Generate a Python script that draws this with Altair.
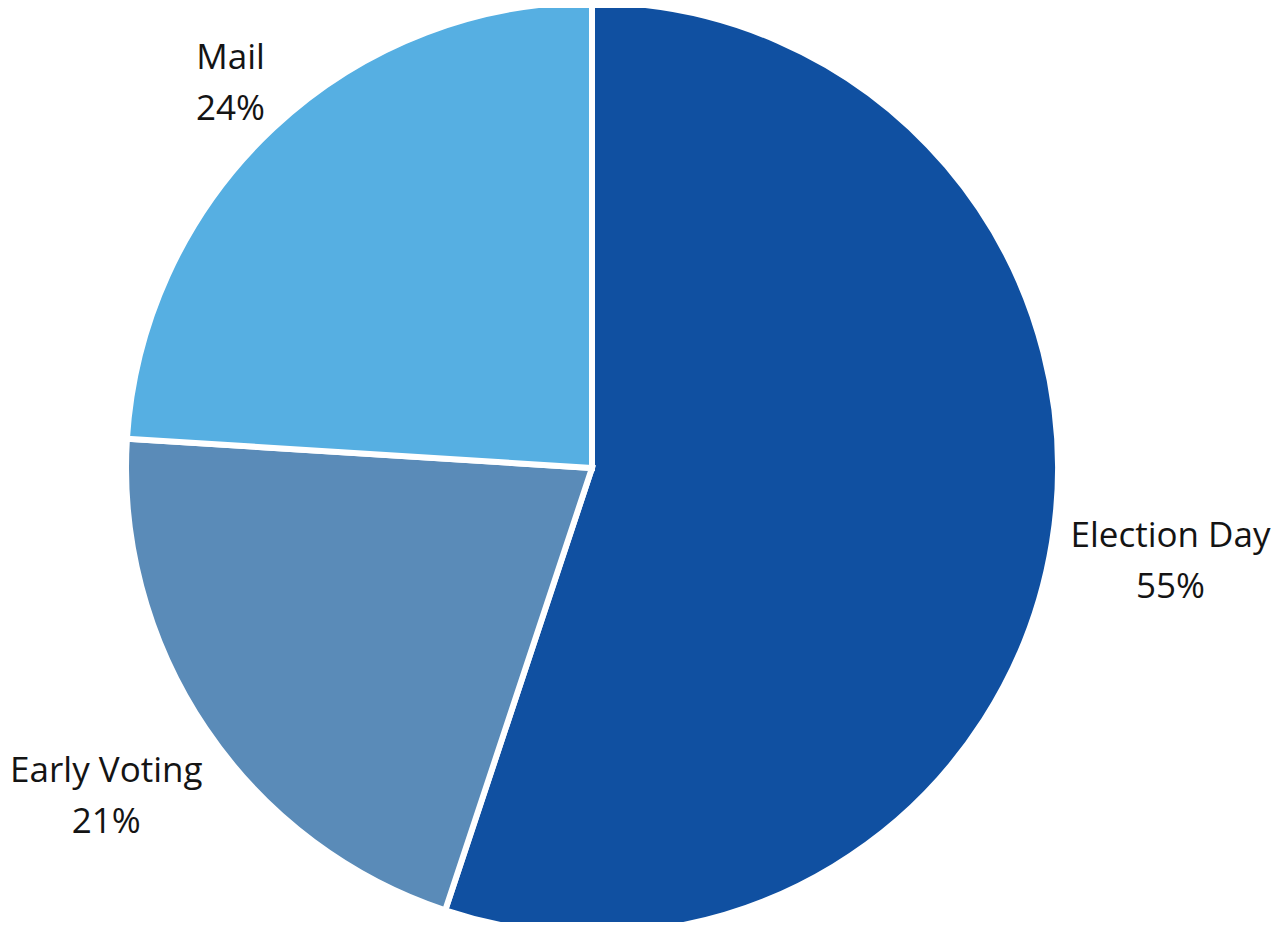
import altair as alt
import pandas as pd

categories = ["Election Day", "Early Voting", "Mail"]
shares = [55.1, 20.9, 24.0]
labels = ["55%", "21%", "24%"]
colors = ["#1050A1", "#5A8BB8", "#56AFE2"]

df = pd.DataFrame({
    "category": categories,
    "share": shares,
    "pct": labels,
    "idx": list(range(len(categories))),
})
df["label"] = df["category"] + "\n" + df["pct"]

base = alt.Chart(df).encode(
    theta=alt.Theta("share:Q", stack=True),
    order=alt.Order("idx:O"),
    x=alt.value(584),
    y=alt.value(460),
)

arcs = base.mark_arc(outerRadius=466, stroke="white", strokeWidth=6).encode(
    color=alt.Color("category:N",
                    scale=alt.Scale(domain=categories, range=colors),
                    legend=None),
)

text_style = dict(font="Open Sans", fontSize=35, lineBreak="\n", lineHeight=51,
                  dy=-25, align="center", baseline="middle", color="#141414")

text_near = base.mark_text(radius=528, **text_style).encode(
    text=alt.condition(alt.datum.category == "Mail", "label:N", alt.value("")),
)
text_far = base.mark_text(radius=586, **text_style).encode(
    text=alt.condition(alt.datum.category != "Mail", "label:N", alt.value("")),
)

chart = (arcs + text_near + text_far).properties(
    width=1269, height=914,
    autosize=alt.AutoSizeParams(type="none"),
    padding=0,
).configure_view(stroke=None)

chart.save("out.html", embed_options={"renderer": "svg", "actions": False})
